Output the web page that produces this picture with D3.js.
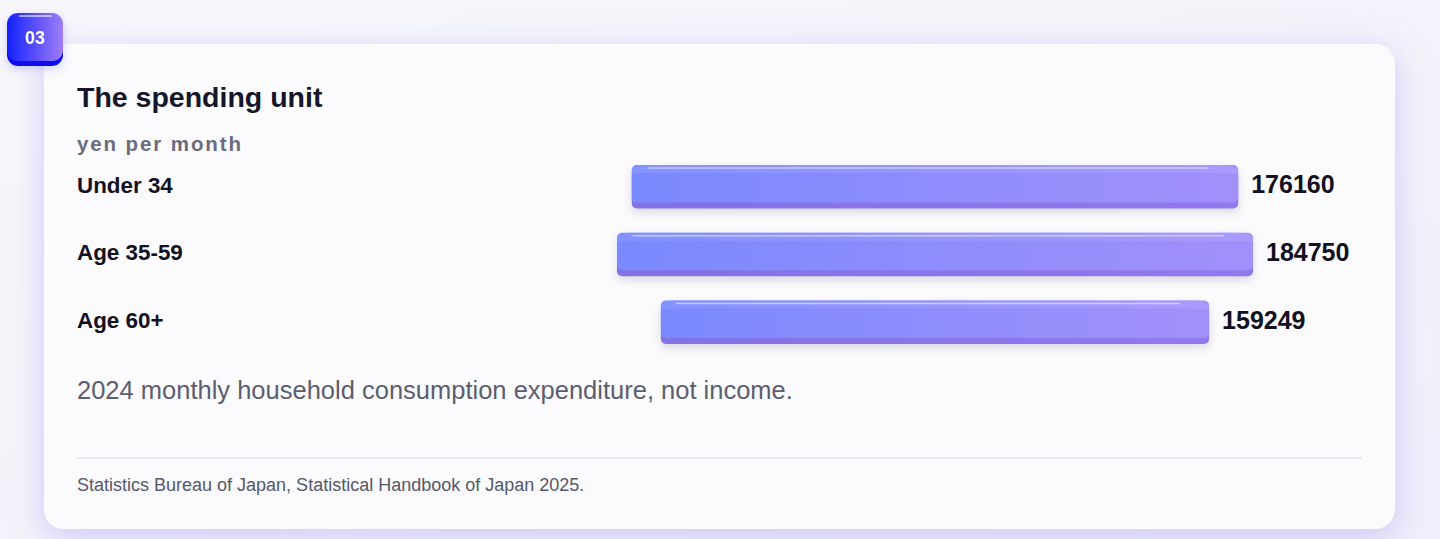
<!DOCTYPE html>
<html>
<head>
<meta charset="utf-8">
<script src="https://cdn.jsdelivr.net/npm/d3@7"></script>
<style>
  html, body { margin: 0; padding: 0; background: #f4f4fa; }
  svg { display: block; font-family: "Liberation Sans", Arial, Helvetica, sans-serif; }
</style>
</head>
<body>
<div id="wrapper"></div>
<script>
// data
const categories = ["Under 34", "Age 35-59", "Age 60+"]
const values = [176160, 184750, 159249]
const badgeText = "03"
const title = "The spending unit"
const unitLabel = "yen per month"
const note = "2024 monthly household consumption expenditure, not income."
const source = "Statistics Bureau of Japan, Statistical Handbook of Japan 2025."

const width = 1440
const height = 539

const card = { x: 44, y: 44, w: 1351, h: 485, r: 20 }
const barCenterX = 935

const svg = d3.select("#wrapper")
  .append("svg")
  .attr("width", width)
  .attr("height", height)

const defs = svg.append("defs")

// page background wash
const bgGrad = defs.append("linearGradient").attr("id", "bg").attr("x1", 0).attr("y1", 0).attr("x2", 1).attr("y2", 1)
bgGrad.append("stop").attr("offset", "0%").attr("stop-color", "#f7f7fb")
bgGrad.append("stop").attr("offset", "100%").attr("stop-color", "#efeefa")

const cardShadow = defs.append("filter").attr("id", "cardShadow")
  .attr("x", "-10%").attr("y", "-20%").attr("width", "120%").attr("height", "140%")
cardShadow.append("feDropShadow")
  .attr("dx", 0).attr("dy", 8).attr("stdDeviation", 16)
  .attr("flood-color", "#c4c0f6").attr("flood-opacity", 0.8)

const barShadow = defs.append("filter").attr("id", "barShadow")
  .attr("x", "-5%").attr("y", "-30%").attr("width", "110%").attr("height", "170%")
barShadow.append("feDropShadow")
  .attr("dx", 0).attr("dy", 4).attr("stdDeviation", 4)
  .attr("flood-color", "#9a98b8").attr("flood-opacity", 0.35)

const badgeShadow = defs.append("filter").attr("id", "badgeShadow")
  .attr("x", "-40%").attr("y", "-40%").attr("width", "180%").attr("height", "180%")
badgeShadow.append("feDropShadow")
  .attr("dx", 0).attr("dy", 3).attr("stdDeviation", 5)
  .attr("flood-color", "#7b7bf0").attr("flood-opacity", 0.35)

const faceGrad = defs.append("linearGradient").attr("id", "face")
faceGrad.append("stop").attr("offset", "0%").attr("stop-color", "#7a89fe")
faceGrad.append("stop").attr("offset", "100%").attr("stop-color", "#a290fa")

const sideGrad = defs.append("linearGradient").attr("id", "side")
sideGrad.append("stop").attr("offset", "0%").attr("stop-color", "#8272e4")
sideGrad.append("stop").attr("offset", "100%").attr("stop-color", "#9278ee")

const topGrad = defs.append("linearGradient").attr("id", "top")
topGrad.append("stop").attr("offset", "0%").attr("stop-color", "#8593ff")
topGrad.append("stop").attr("offset", "100%").attr("stop-color", "#aa9bfc")

const badgeGrad = defs.append("linearGradient").attr("id", "badge")
badgeGrad.append("stop").attr("offset", "0%").attr("stop-color", "#1420ff")
badgeGrad.append("stop").attr("offset", "100%").attr("stop-color", "#a07ef6")

svg.append("rect")
  .attr("width", width).attr("height", height)
  .attr("fill", "url(#bg)")

// card
svg.append("rect")
  .attr("x", card.x).attr("y", card.y)
  .attr("width", card.w).attr("height", card.h)
  .attr("rx", card.r)
  .attr("fill", "#fbfbfd")
  .attr("filter", "url(#cardShadow)")

// badge
const badge = svg.append("g").attr("filter", "url(#badgeShadow)")
badge.append("rect")
  .attr("x", 7).attr("y", 18).attr("width", 56).attr("height", 48).attr("rx", 11)
  .attr("fill", "#0a10ee")
badge.append("rect")
  .attr("x", 7).attr("y", 13).attr("width", 56).attr("height", 48).attr("rx", 11)
  .attr("fill", "url(#badge)")
badge.append("line")
  .attr("x1", 20).attr("x2", 51).attr("y1", 16).attr("y2", 16)
  .attr("stroke", "#ffffff").attr("stroke-opacity", 0.55).attr("stroke-width", 2)
  .attr("stroke-linecap", "round")
badge.append("text")
  .attr("x", 35).attr("y", 44)
  .attr("text-anchor", "middle")
  .attr("fill", "#ffffff")
  .attr("font-size", 18).attr("font-weight", 700)
  .text(badgeText)

// texts
svg.append("text")
  .attr("x", 77).attr("y", 107)
  .attr("fill", "#15162a")
  .attr("font-size", 28.5).attr("font-weight", 700)
  .text(title)

svg.append("text")
  .attr("x", 77).attr("y", 151)
  .attr("fill", "#6a6c7e")
  .attr("font-size", 20.5).attr("font-weight", 700)
  .attr("letter-spacing", 1.9)
  .text(unitLabel)

// scales
const xScale = d3.scaleLinear()
  .domain([0, d3.max(values)])
  .range([0, 636])

const yScale = d3.scaleBand()
  .domain(categories)
  .range([165, 344])
  .paddingInner(0.36)
  .paddingOuter(0)

const rows = svg.append("g")
  .selectAll("g")
  .data(categories.map((c, i) => ({ cat: c, value: values[i] })))
  .join("g")
  .attr("transform", d => `translate(0, ${yScale(d.cat)})`)

const bh = yScale.bandwidth()

rows.append("text")
  .attr("x", 77).attr("y", bh / 2 - 2)
  .attr("dy", "0.35em")
  .attr("fill", "#111122")
  .attr("font-size", 22.4).attr("font-weight", 700)
  .text(d => d.cat)

const bars = rows.append("g").attr("filter", "url(#barShadow)")

// bottom side band
bars.append("rect")
  .attr("x", d => barCenterX - xScale(d.value) / 2)
  .attr("y", 6)
  .attr("width", d => xScale(d.value))
  .attr("height", bh - 6)
  .attr("rx", 5)
  .attr("fill", "url(#side)")

// front face
bars.append("rect")
  .attr("x", d => barCenterX - xScale(d.value) / 2)
  .attr("y", 0)
  .attr("width", d => xScale(d.value))
  .attr("height", bh - 6)
  .attr("rx", 5)
  .attr("fill", "url(#face)")

// top bevel with chamfered ends
bars.append("path")
  .attr("d", d => {
    const x0 = barCenterX - xScale(d.value) / 2
    const x1 = barCenterX + xScale(d.value) / 2
    return `M${x0},9 L${x0},6 Q${x0},0 ${x0 + 12},0 L${x1 - 16},0 Q${x1},0 ${x1},9 L${x1 - 1},9 L${x1 - 24},8 L${x0 + 10},8 Z`
  })
  .attr("fill", "url(#top)")
  .attr("opacity", 0.9)

// highlight
bars.append("line")
  .attr("x1", d => barCenterX - xScale(d.value) / 2 + 16)
  .attr("x2", d => barCenterX + xScale(d.value) / 2 - 30)
  .attr("y1", 3).attr("y2", 3)
  .attr("stroke", "#ffffff").attr("stroke-opacity", 0.5).attr("stroke-width", 1.5)
  .attr("stroke-linecap", "round")

rows.append("text")
  .attr("x", d => barCenterX + xScale(d.value) / 2 + 13)
  .attr("y", bh / 2 - 2)
  .attr("dy", "0.35em")
  .attr("fill", "#111122")
  .attr("font-size", 25).attr("font-weight", 700)
  .text(d => d.value)

svg.append("text")
  .attr("x", 77).attr("y", 399)
  .attr("fill", "#5b5e70")
  .attr("font-size", 25.5)
  .text(note)

svg.append("line")
  .attr("x1", 77).attr("x2", 1362)
  .attr("y1", 458).attr("y2", 458)
  .attr("stroke", "#e3e3ea").attr("stroke-width", 1.5)

svg.append("text")
  .attr("x", 77).attr("y", 491)
  .attr("fill", "#55586a")
  .attr("font-size", 18)
  .text(source)
</script>
</body>
</html>
